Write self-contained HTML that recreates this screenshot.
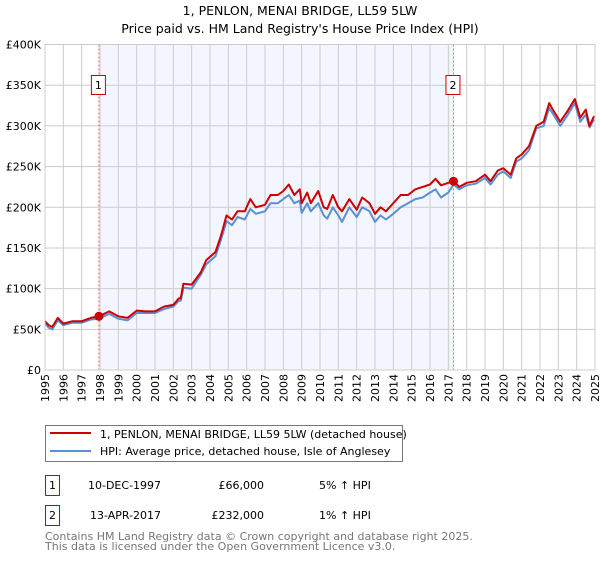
<!DOCTYPE html>
<html><head><meta charset="utf-8"><style>
body{margin:0;background:#fff;font-family:"Liberation Sans","DejaVu Sans",sans-serif;}
svg text{font-family:"DejaVu Sans","Liberation Sans",sans-serif;}
</style></head><body>
<svg width="600" height="560" xmlns="http://www.w3.org/2000/svg">
<text x="300" y="15" text-anchor="middle" font-size="12.5" fill="#000">1, PENLON, MENAI BRIDGE, LL59 5LW</text>
<text x="300" y="33" text-anchor="middle" font-size="12.5" fill="#000">Price paid vs. HM Land Registry's House Price Index (HPI)</text>
<g id="plot"></g>
<g>
<rect x="45.5" y="425.5" width="357" height="36" fill="#fff" stroke="#777"/>
<line x1="50" y1="433" x2="91" y2="433" stroke="#cc0000" stroke-width="2"/>
<text x="100" y="438" font-size="11">1, PENLON, MENAI BRIDGE, LL59 5LW (detached house)</text>
<line x1="50" y1="451" x2="91" y2="451" stroke="#5b8fd4" stroke-width="2"/>
<text x="100" y="455" font-size="11">HPI: Average price, detached house, Isle of Anglesey</text>
</g>
<g font-size="11">
<rect x="45.5" y="475.5" width="14" height="20" fill="#fff" stroke="#cc0000"/>
<text x="52.5" y="489" text-anchor="middle">1</text>
<text x="88" y="489">10-DEC-1997</text>
<text x="264" y="489" text-anchor="end">£66,000</text>
<text x="319" y="489">5% ↑ HPI</text>
<rect x="45.5" y="505.5" width="14" height="20" fill="#fff" stroke="#cc0000"/>
<text x="52.5" y="519" text-anchor="middle">2</text>
<text x="90" y="519">13-APR-2017</text>
<text x="264" y="519" text-anchor="end">£232,000</text>
<text x="319" y="519">1% ↑ HPI</text>
</g>
<text x="45" y="540" font-size="11" fill="#777">Contains HM Land Registry data © Crown copyright and database right 2025.</text>
<text x="45" y="550" font-size="11" fill="#777">This data is licensed under the Open Government Licence v3.0.</text>
</svg>
<script>
const years=[1995,1996,1997,1998,1999,2000,2001,2002,2003,2004,2005,2006,2007,2008,2009,2010,2011,2012,2013,2014,2015,2016,2017,2018,2019,2020,2021,2022,2023,2024,2025];
const yTicks=[0,50000,100000,150000,200000,250000,300000,350000,400000];
const yTickLabels=["£0","£50K","£100K","£150K","£200K","£250K","£300K","£350K","£400K"];
const saleDates=[1997.94,2017.28];
const salePrices=[66000,232000];
const saleLabels=["1","2"];
const tPts=[1995.0,1995.2,1995.4,1995.7,1996.0,1996.5,1997.0,1997.5,1997.95,1998.5,1999.0,1999.5,2000.0,2000.5,2001.0,2001.5,2002.0,2002.3,2002.4,2002.55,2003.0,2003.5,2003.8,2004.3,2004.6,2004.9,2005.2,2005.5,2005.9,2006.2,2006.5,2007.0,2007.3,2007.7,2008.0,2008.3,2008.6,2008.9,2009.0,2009.3,2009.5,2009.9,2010.2,2010.4,2010.7,2011.0,2011.2,2011.6,2012.0,2012.3,2012.7,2013.0,2013.3,2013.6,2014.0,2014.4,2014.8,2015.2,2015.6,2016.0,2016.3,2016.6,2017.0,2017.28,2017.6,2018.0,2018.5,2019.0,2019.3,2019.7,2020.0,2020.4,2020.7,2021.0,2021.4,2021.8,2022.2,2022.5,2022.7,2023.1,2023.5,2023.9,2024.2,2024.5,2024.7,2024.95];
const priceK=[60,55,53,64,57,60,60,64,66,72,66,64,73,72,72,78,80,88,88,106,105,120,135,145,165,190,185,195,195,210,200,203,215,215,220,228,215,222,205,218,205,220,200,198,215,200,195,210,197,212,205,192,200,195,205,215,215,222,225,228,235,227,230,232,225,230,232,240,232,245,248,240,260,265,275,300,305,328,320,305,318,333,310,320,300,312];
const hpiK=[57,52,50,61,55,58,58,62,63,69,63,61,70,70,70,75,78,85,85,101,100,117,130,140,160,183,178,188,185,198,192,195,205,205,210,215,205,208,193,205,195,205,190,186,200,190,182,200,188,200,195,182,190,185,192,200,205,210,212,218,222,212,218,228,222,227,229,236,228,240,244,236,256,260,270,297,300,322,315,300,313,328,305,314,298,308];
const X0=45,X1=595,Y0=370,Y1=44.5;
const xs=t=>X0+(t-1995)/30*(X1-X0);
const ys=v=>Y0-v/400000*(Y0-Y1);
const NS="http://www.w3.org/2000/svg";
const g=document.getElementById('plot');
function mk(tag,attrs){const e=document.createElementNS(NS,tag);for(const k in attrs)e.setAttribute(k,attrs[k]);g.appendChild(e);return e;}
let e;
e=mk('rect',{x:xs(saleDates[0]),y:Y1,width:xs(saleDates[1])-xs(saleDates[0]),height:Y0-Y1,fill:'#f3f6fe'});


years.forEach((yr,i)=>{
 const l=mk('line',{x1:xs(yr),x2:xs(yr),y1:Y1,y2:Y0,stroke:'#cccccc','stroke-width':1});
 
 
 const x=xs(yr)+4, y=Y0+4;
 const t=mk('text',{x:x,y:y,transform:`rotate(-90 ${x} ${y})`,'text-anchor':'end','font-size':11});
 t.textContent=yr;
 
 
});
yTicks.forEach((v,i)=>{
 const l=mk('line',{x1:X0,x2:X1,y1:ys(v),y2:ys(v),stroke:'#cccccc','stroke-width':1});
 
 
 const t=mk('text',{x:X0-4,y:ys(v)+4,'text-anchor':'end','font-size':11});
 t.textContent=yTickLabels[i];
 
 
});
saleDates.forEach((d,i)=>{
 const l=mk('line',{x1:xs(d),x2:xs(d),y1:Y1,y2:Y0,stroke:'#ee6666','stroke-width':1,'stroke-dasharray':'2,2'});
 
 
 const r=mk('rect',{x:xs(d)-7.5,y:75.5,width:14,height:19,fill:'#fff',stroke:'#cc0000'});
 
 
 const t=mk('text',{x:xs(d)-0.5,y:89,'text-anchor':'middle','font-size':11});
 t.textContent=saleLabels[i];
 
 
});
const path=arr=>arr.map((v,i)=>(i?'L':'M')+xs(tPts[i]).toFixed(1)+','+ys(v*1000).toFixed(1)).join('');
e=mk('path',{d:path(hpiK),fill:'none',stroke:'#5b8fd4','stroke-width':2,'stroke-linejoin':'round'});


e=mk('path',{d:path(priceK),fill:'none',stroke:'#cc0000','stroke-width':2,'stroke-linejoin':'round'});


saleDates.forEach((d,i)=>{
 const c=mk('circle',{cx:xs(d),cy:ys(salePrices[i]),r:4.5,fill:'#cc0000'});
 
 
});
e=mk('rect',{x:X0,y:Y1,width:X1-X0,height:Y0-Y1,fill:'none',stroke:'#cccccc'});


</script>
</body></html>
